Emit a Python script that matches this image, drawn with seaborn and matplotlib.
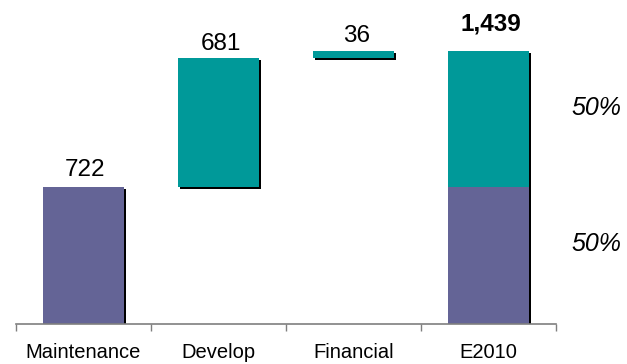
import matplotlib
matplotlib.use("Agg")
import matplotlib.pyplot as plt
import matplotlib.patheffects as pe
from matplotlib.ticker import FixedLocator
import numpy as np
import seaborn as sns

# Waterfall data
categories = ["Maintenance", "Develop", "Financial", "E2010"]
base_value = 722            # Maintenance
increments = [681, 36]      # Develop, Financial
total_value = 1439          # E2010

PURPLE = "#646496"
TEAL = "#009999"

sns.set_theme(style="white")
plt.rcParams["font.family"] = ["Liberation Sans", "DejaVu Sans"]

# Derived bar geometry for the waterfall
steps = np.cumsum([base_value] + increments)          # 722, 1403, 1439
teal_heights = [0, increments[0], increments[1], total_value - base_value]
teal_bottoms = [0, steps[0], steps[1], base_value]
purple_heights = [base_value, 0, 0, base_value]
labels = [base_value, increments[0], increments[1], total_value]
label_tops = [base_value, steps[1], steps[2], total_value]
label_offsets = [4, 2, 3, 11]

fig = plt.figure(figsize=(6.27, 3.64), dpi=100)
ax = fig.add_axes([0.0255, 0.110, 0.8612, 0.86])

shadow = [pe.SimplePatchShadow(offset=(1.5, -1.5), shadow_rgbFace="black", alpha=1.0),
          pe.Normal()]

sns.barplot(x=categories, y=teal_heights, bottom=teal_bottoms, color=TEAL,
            saturation=1, width=0.6, linewidth=0, ax=ax)
sns.barplot(x=categories, y=purple_heights, color=PURPLE,
            saturation=1, width=0.6, linewidth=0, ax=ax)
for p in ax.patches:
    if p.get_height() > 0:
        p.set_path_effects(shadow)
    else:
        p.set_visible(False)

# Value labels above each bar
for i, (val, top, off) in enumerate(zip(labels, label_tops, label_offsets)):
    bold = i == len(labels) - 1
    ax.annotate(f"{val:,}", xy=(i, top), xytext=(2 if i else 1, off),
                textcoords="offset points", ha="center", va="bottom",
                fontsize=17.5, fontweight="bold" if bold else "normal", color="black")

# Share of the total on the right
shares = [total_value - base_value, base_value]
mids = [(base_value + total_value) / 2, base_value / 2]
for share, mid in zip(shares, mids):
    ax.annotate(f"{share / total_value:.0%}", xy=(1.0, mid),
                xycoords=("axes fraction", "data"), xytext=(11.5, 8),
                textcoords="offset points", ha="left", va="center",
                fontsize=18, fontstyle="italic", color="black")

ax.set_xlim(-0.5, 3.5)
ax.set_ylim(0, 1650)
ax.set_yticks([])
ax.set_xlabel("")
ax.set_ylabel("")
for side in ["left", "right", "top"]:
    ax.spines[side].set_visible(False)
ax.spines["bottom"].set_color("#7f7f7f")
ax.spines["bottom"].set_linewidth(1.2)

ax.xaxis.set_minor_locator(FixedLocator(np.arange(-0.5, 4.0, 1.0)))
ax.tick_params(axis="x", which="minor", bottom=True, length=5, width=1.0,
               color="#7f7f7f", direction="out")
ax.tick_params(axis="x", which="major", bottom=False, length=0, pad=14,
               labelsize=14.5, labelcolor="black")

fig.savefig("out.png", dpi=100, facecolor="white")
